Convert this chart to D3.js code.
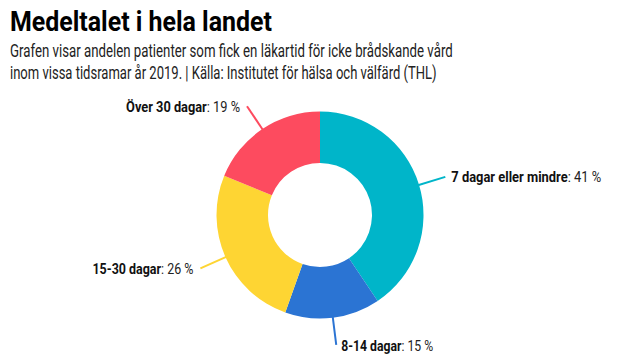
<!DOCTYPE html>
<html><head><meta charset="utf-8">
<script src="https://cdn.jsdelivr.net/npm/d3@7"></script>
<style>
html,body{margin:0;padding:0;background:#fff;}
svg{display:block;}
.cond{font-family:"Roboto","Noto Sans",sans-serif;}
</style></head>
<body>
<svg id="chart" width="640" height="360"></svg>
<script>
const categories = ["7 dagar eller mindre", "8-14 dagar", "15-30 dagar", "Över 30 dagar"];
const values = [41, 15, 26, 19];
const colors = ["#00b5c9", "#2b74d3", "#fed533", "#fd4b5f"];
const title = "Medeltalet i hela landet";
const subtitle = ["Grafen visar andelen patienter som fick en läkartid för icke brådskande vård",
                  "inom vissa tidsramar år 2019. | Källa: Institutet för hälsa och välfärd (THL)"];

const svg = d3.select("#chart");

// condense a text element horizontally to a target width around its anchor x
function condense(sel, targetW, anchorX){
  const w = sel.node().getComputedTextLength();
  const s = targetW / w;
  sel.attr("transform", `translate(${anchorX},0) scale(${s},1) translate(${-anchorX},0)`);
}

const t0 = svg.append("text").attr("class","cond").attr("x",10).attr("y",31)
  .attr("font-size",27.5).attr("font-weight","bold").attr("fill","#000").text(title);
condense(t0, 262, 10);
const subW = [443, 427];
subtitle.forEach((s,i)=>{
  const t = svg.append("text").attr("class","cond").attr("x",10).attr("y",57+i*22)
    .attr("font-size",18).attr("fill","#222").text(s);
  condense(t, subW[i], 10);
});

const cx = 320, cy = 215, R = 103.5, r = 52;
const data = categories.map((c,i)=>({name:c, value:values[i], color:colors[i]}));
const pie = d3.pie().value(d=>d.value).sort(null);
const arcs = pie(data);
const arc = d3.arc().innerRadius(r).outerRadius(R);
const g = svg.append("g").attr("transform",`translate(${cx},${cy})`);
g.selectAll("path").data(arcs).join("path").attr("d",arc).attr("fill",d=>d.data.color);

const lineR = 131;
const labelW = [150, 92, 101, 114];
arcs.forEach((a,i)=>{
  const m = (a.startAngle+a.endAngle)/2;
  const x0 = Math.sin(m)*(R-2), y0 = -Math.cos(m)*(R-2);
  const x1 = Math.sin(m)*lineR, y1 = -Math.cos(m)*lineR;
  g.append("line").attr("x1",x0).attr("y1",y0).attr("x2",x1).attr("y2",y1)
    .attr("stroke",a.data.color).attr("stroke-width",2);
  let tx, ty, anchor;
  if (Math.abs(Math.sin(m))<0.2){ tx = x1+5; ty = y1+6; anchor="start"; }
  else if (Math.sin(m)>0){ tx = x1+6; ty = y1+5; anchor="start"; }
  else { tx = x1-7; ty = y1+6; anchor="end"; }
  const t = g.append("text").attr("class","cond").attr("x",tx).attr("y",ty)
    .attr("text-anchor",anchor).attr("font-size",15).attr("fill","#111");
  t.append("tspan").attr("font-weight","bold").text(a.data.name);
  t.append("tspan").attr("fill","#222").text(": " + a.data.value + " %");
  condense(t, labelW[i], tx);
});
</script>
</body></html>
